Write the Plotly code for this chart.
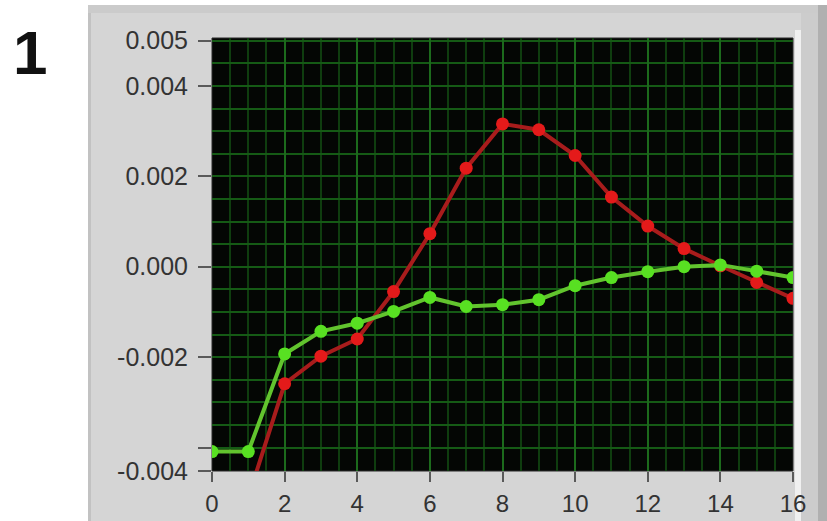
import plotly.graph_objects as go

# ---- data ----
x_vals = list(range(0, 17))
red_vals = [-0.0054, -0.0051, -0.00259, -0.00198, -0.00160, -0.00055, 0.00073, 0.00218,
            0.00316, 0.00303, 0.00246, 0.00154, 0.00090, 0.00040, 0.00002, -0.00035, -0.00070]
green_vals = [-0.00409, -0.00409, -0.00193, -0.00143, -0.00125, -0.00099, -0.00068, -0.00088,
              -0.00084, -0.00073, -0.00042, -0.00024, -0.00011, 0.00000, 0.00004, -0.00010, -0.00024]

x_ticks = [0, 2, 4, 6, 8, 10, 12, 14, 16]
y_min, y_max = -0.00452, 0.00506
y_tickvals = [0.005, 0.004, 0.002, 0.0, -0.002, -0.004, y_min]
y_ticktext = ["0.005", "0.004", "0.002", "0.000", "-0.002", "", "-0.004"]

W, H = 827, 521
L, R, T, B = 212, 34, 38, 50
pw, ph = W - L - R, H - T - B


def px(xp):
    return (xp - L) / pw


def py(yp):
    return (H - B - yp) / ph


fig = go.Figure()
fig.add_trace(go.Scatter(
    x=x_vals, y=red_vals, mode="lines+markers",
    line=dict(color="#a81c1c", width=4),
    marker=dict(color="#e41a1a", size=13, symbol="circle"),
    showlegend=False,
))
fig.add_trace(go.Scatter(
    x=x_vals, y=green_vals, mode="lines+markers",
    line=dict(color="#62c42e", width=4),
    marker=dict(color="#58e022", size=13, symbol="circle"),
    showlegend=False,
))

shapes = [
    # grey LabVIEW panel
    dict(type="rect", xref="paper", yref="paper", x0=px(88), x1=px(827), y0=py(521), y1=py(5),
         fillcolor="#d5d5d5", line=dict(width=0), layer="below"),
    dict(type="rect", xref="paper", yref="paper", x0=px(88), x1=px(91), y0=py(521), y1=py(5),
         fillcolor="#c2c2c2", line=dict(width=0), layer="below"),
    dict(type="rect", xref="paper", yref="paper", x0=px(88), x1=px(827), y0=py(13), y1=py(5),
         fillcolor="#cbcbcb", line=dict(width=0), layer="below"),
    dict(type="rect", xref="paper", yref="paper", x0=px(795), x1=px(801), y0=py(521), y1=py(30),
         fillcolor="#f0f0f0", line=dict(width=0), layer="below"),
    dict(type="rect", xref="paper", yref="paper", x0=px(801), x1=px(818), y0=py(521), y1=py(13),
         fillcolor="#cccccc", line=dict(width=0), layer="below"),
    dict(type="rect", xref="paper", yref="paper", x0=px(818), x1=px(827), y0=py(521), y1=py(5),
         fillcolor="#b0b0b0", line=dict(width=0), layer="below"),
    # black plot area
    dict(type="rect", xref="paper", yref="paper", x0=0, x1=1, y0=0, y1=1,
         fillcolor="#040604", line=dict(color="#2a2a2a", width=1), layer="below"),
]

fig.update_layout(
    width=W, height=H,
    margin=dict(l=L, r=R, t=T, b=B, autoexpand=False),
    paper_bgcolor="white",
    plot_bgcolor="#040604",
    shapes=shapes,
    font=dict(family="Liberation Sans, Arial, sans-serif", size=25, color="#333333"),
    annotations=[dict(text="<b>1</b>", xref="paper", yref="paper", x=px(30), y=py(53),
                      showarrow=False, xanchor="center", yanchor="middle",
                      font=dict(family="Liberation Sans, Arial, sans-serif", size=62, color="#111111"))],
)

fig.update_xaxes(
    range=[0, 16], tickmode="array", tickvals=x_ticks, automargin=False,
    ticks="outside", ticklen=10, tickwidth=2, tickcolor="#5a5a5a",
    ticklabelstandoff=1, tickfont=dict(size=24),
    showgrid=True, gridcolor="#1c6a1c", gridwidth=2,
    minor=dict(dtick=0.5, tick0=0, showgrid=True, gridcolor="#0f3d0f", gridwidth=1.5, ticks=""),
    zeroline=False, showline=False,
)
fig.update_yaxes(
    range=[y_min, y_max], tickmode="array", tickvals=y_tickvals, ticktext=y_ticktext,
    automargin=False,
    ticks="outside", ticklen=13, tickwidth=2, tickcolor="#5a5a5a",
    ticklabelstandoff=5,
    showgrid=False,
    minor=dict(dtick=0.0005, tick0=0, showgrid=True, gridcolor="#155a15", gridwidth=1.8, ticks=""),
    zeroline=False, showline=False,
)

fig.write_html("out.html")
